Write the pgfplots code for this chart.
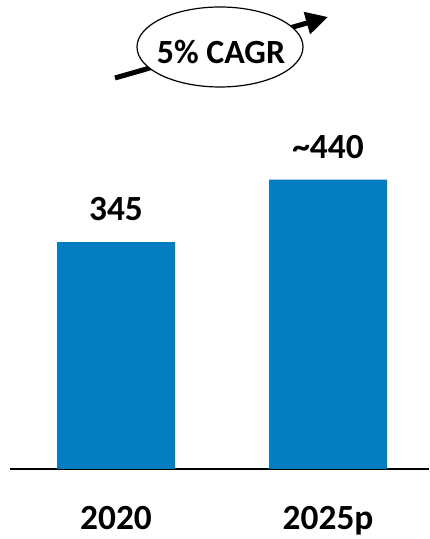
\documentclass[border=0pt]{standalone}
\usepackage{pgfplots}
\pgfplotsset{compat=1.18}
\usepackage{fontspec}
\setmainfont{Carlito}
\usetikzlibrary{arrows.meta}
\definecolor{barblue}{RGB}{2,125,193}
\begin{document}
\begin{tikzpicture}[x=1bp,y=1bp]
\begin{axis}[
  at={(10bp,70bp)}, anchor=south west,
  scale only axis, width=419bp, height=469bp,
  xmin=-0.5, xmax=1.476, ymin=0, ymax=713,
  axis y line=none, axis x line=bottom,
  x axis line style={-, line width=1.3bp, black},
  xtick={0,1}, xticklabels={2020,2025p},
  major tick length=0pt,
  xticklabel style={font=\fontsize{35.5}{42}\selectfont\bfseries, anchor=north, inner sep=0pt, yshift=-37bp},
  ytick=\empty,
  clip=false,
  ybar, bar width=118bp,
  point meta=explicit symbolic,
  nodes near coords,
  every node near coord/.append style={font=\fontsize{35.5}{42}\selectfont\bfseries, anchor=south, inner sep=0pt, yshift=21bp},
]
\addplot[fill=barblue, draw=none] coordinates {(0,345) [345] (1,440) [\textasciitilde440]};
\end{axis}
\draw[line width=5bp, -{Triangle[length=22bp,width=22bp]}] (115,461) -- (328,522);
\draw[line width=1.2bp, fill=white] (220,492) ellipse [x radius=83, y radius=40];
\node[font=\fontsize{34}{40}\selectfont\bfseries] at (221,487) {5\% CAGR};
\pgfresetboundingbox
\useasboundingbox (0,0) rectangle (429,539);
\end{tikzpicture}
\end{document}
